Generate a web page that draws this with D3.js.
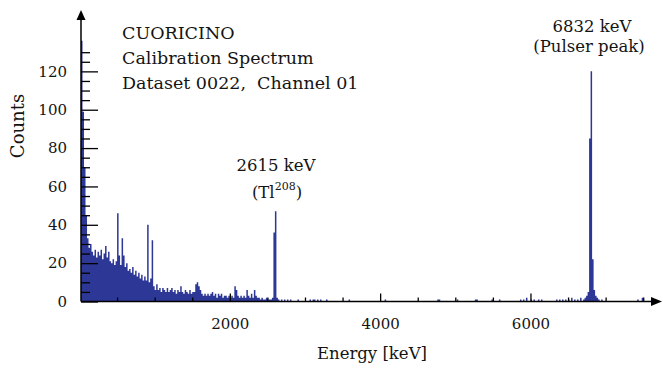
<!DOCTYPE html>
<html><head><meta charset="utf-8">
<script src="https://cdn.jsdelivr.net/npm/d3@7"></script>
<style>
body{margin:0;background:#fff}
svg{display:block}
text{font-family:"DejaVu Serif",serif;fill:#141414}
</style>
</head><body>
<svg id="chart" width="663" height="368"></svg>
<script>
// ---- data ----
const binWidth = 20;          // keV per histogram bin
const lowStart = 20;          // first bin start energy (keV)
// counts per 20 keV bin, 20 .. 2640 keV
const lowCounts = [
  136,99,70,45,33,28,30,26,24,27,
  23,26,24,27,22,25,29,23,26,21,
  20,22,19,21,46,24,19,33,24,18,
  20,16,17,15,18,14,16,13,15,12,
  14,11,13,11,40,10,12,32,8,6,
  9,6,7,5,7,6,5,7,5,6,
  7,5,6,4,6,5,8,5,4,6,
  5,4,6,4,5,5,9,10,8,6,
  4,3,4,3,4,3,4,5,3,4,
  2,4,3,4,2,3,3,2,3,2,
  3,2,8,6,3,2,3,2,3,2,
  6,3,2,4,2,6,3,2,2,1,
  2,1,1,2,1,1,1,2,36,47,
  2,1
];
// sparse bins above 2660 keV (bin start energy, counts)
const sparseEnergies = [2680,2720,2760,2800,2900,3060,3100,3120,3160,3200,3280,3580,4060,4760,4780,5020,5260,5280,5480,5580,5860,5900,5940,6000,6040,6100,6140,6340,6380,6420,6460,6500,6540,6580,6620,6660,6700,6720,6740,6760,6780,6800,6820,6840,6860,6880,6900,6940,7420,7480];
const sparseCounts   = [1,1,1,1,1,1,1,1,1,1,1,1,1,1,1,1,1,1,1,1,1,1,2,1,1,1,1,1,1,1,1,1,2,1,1,2,1,2,3,5,85,120,22,6,3,2,1,1,1,2];

const xDomain = [20, 7750];
const yDomain = [0, 152];
const xMajorTicks = [2000, 4000, 6000];
const xMinorTicks = [500,1000,1500,2500,3000,3500,4500,5000,5500,6500,7000,7500];
const yMajorTicks = [0, 20, 40, 60, 80, 100, 120];
const yMinorTicks = [5,10,15,25,30,35,45,50,55,65,70,75,85,90,95,105,110,115,125,130];
const titleLines = ["CUORICINO", "Calibration Spectrum", "Dataset 0022,  Channel 01"];
const xLabel = "Energy [keV]";
const yLabel = "Counts";

// ---- drawing ----
const svg = d3.select("#chart");
const x = d3.scaleLinear().domain(xDomain).range([81, 662]);
const y = d3.scaleLinear().domain(yDomain).range([301.5, 10]);

const countMap = new Map();
lowCounts.forEach((c, i) => countMap.set(lowStart + i * binWidth, c));
sparseEnergies.forEach((e, i) => countMap.set(e, sparseCounts[i]));
const bins = [];
for (let e = lowStart; e < 7740; e += binWidth) bins.push({e, c: countMap.get(e) || 0});
bins.push({e: 7740, c: 0});

const area = d3.area()
  .curve(d3.curveStepAfter)
  .x(d => x(d.e))
  .y0(y(0))
  .y1(d => y(d.c));
svg.append("path").datum(bins)
  .attr("d", area)
  .attr("fill", "#2d3795")
  .attr("stroke", "none");

// axes ticks (inside)
function styleAxis(g){
  g.select(".domain").remove();
  g.selectAll(".tick line").attr("stroke", "#000").attr("stroke-width", 1.3);
  g.selectAll(".tick text").attr("fill", "#141414").style("font-family", '"DejaVu Serif",serif');
}
svg.append("g").attr("transform", "translate(0,301.5)")
  .call(d3.axisBottom(x).tickValues(xMinorTicks).tickSize(-4).tickSizeOuter(0).tickFormat(""))
  .call(styleAxis);
svg.append("g").attr("transform", "translate(0,301.5)")
  .call(d3.axisBottom(x).tickValues(xMajorTicks).tickSize(-8).tickSizeOuter(0).tickPadding(17).tickFormat(d3.format("d")))
  .call(styleAxis)
  .call(g => g.selectAll(".tick text").attr("font-size", 15));
svg.append("g").attr("transform", "translate(81,0)")
  .call(d3.axisLeft(y).tickValues(yMinorTicks).tickSize(-9).tickSizeOuter(0).tickFormat(""))
  .call(styleAxis);
svg.append("g").attr("transform", "translate(81,0)")
  .call(d3.axisLeft(y).tickValues(yMajorTicks).tickSize(-17).tickSizeOuter(0).tickPadding(14).tickFormat(d3.format("d")))
  .call(styleAxis)
  .call(g => g.selectAll(".tick text").attr("font-size", 15));

// axis lines with arrows
svg.append("line").attr("x1", 81).attr("y1", 301.5).attr("x2", 81).attr("y2", 18)
  .attr("stroke", "#000").attr("stroke-width", 1.5);
svg.append("path").attr("d", "M81,10 L76.5,20 L85.5,20 Z").attr("fill", "#000");
svg.append("line").attr("x1", 81).attr("y1", 301.5).attr("x2", 653).attr("y2", 301.5)
  .attr("stroke", "#000").attr("stroke-width", 1.5);
svg.append("path").attr("d", "M662,301.5 L651,297 L651,306 Z").attr("fill", "#000");

// axis labels
svg.append("text").attr("x", 372).attr("y", 359).attr("text-anchor", "middle")
  .attr("font-size", 16.5).text(xLabel);
svg.append("text").attr("transform", "translate(24,126) rotate(-90)").attr("text-anchor", "middle")
  .attr("font-size", 18).text(yLabel);

// title block
svg.append("g").selectAll("text").data(titleLines).join("text")
  .attr("x", 122).attr("y", (d, i) => 39 + i * 25)
  .attr("font-size", 17.5).attr("xml:space", "preserve").style("white-space", "pre")
  .text(d => d);

// peak annotations
svg.append("text").attr("x", 276).attr("y", 171).attr("text-anchor", "middle")
  .attr("font-size", 16.5).text("2615 keV");
const tl = svg.append("text").attr("x", 277).attr("y", 198).attr("text-anchor", "middle")
  .attr("font-size", 16.5);
tl.append("tspan").text("(Tl");
tl.append("tspan").attr("font-size", 11).attr("dy", -8).text("208");
tl.append("tspan").attr("dy", 8).text(")");
svg.append("text").attr("x", 592).attr("y", 32).attr("text-anchor", "middle")
  .attr("font-size", 16.5).text("6832 keV");
svg.append("text").attr("x", 589).attr("y", 52).attr("text-anchor", "middle")
  .attr("font-size", 16.5).text("(Pulser peak)");
</script>
</body></html>
